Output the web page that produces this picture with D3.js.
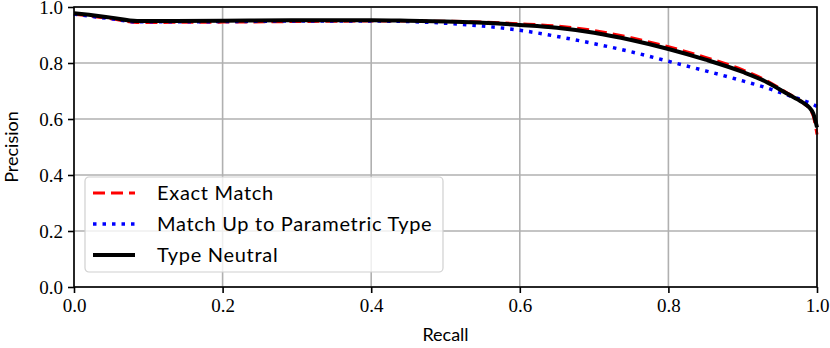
<!DOCTYPE html>
<html lang="en">
  <head>
    <meta charset="UTF-8" />
    <script src="https://d3js.org/d3.v7.min.js"></script>
    <style>
      body { margin: 0; background: #fff; }
      .tick text { font-family: "Liberation Serif", serif; font-size: 19px; fill: #000; }
      .lbl { font-family: "Lato", sans-serif; font-size: 18px; fill: #000; }
      .leg { font-family: "Lato", sans-serif; font-size: 20px; letter-spacing: 0.7px; fill: #000; }
    </style>
  </head>
  <body>
    <div id="chart"></div>
    <script>
      // recall grid shared by the three curves
      const recall = [0, 0.02, 0.05, 0.085, 0.1, 0.2, 0.3, 0.4, 0.45, 0.5, 0.55, 0.6, 0.65, 0.7, 0.75, 0.8, 0.85, 0.9, 0.93, 0.96, 0.98, 0.99, 0.995, 1.0];
      const exactMatch = [0.975, 0.968, 0.958, 0.945, 0.945, 0.946, 0.948, 0.950, 0.950, 0.949, 0.946, 0.940, 0.932, 0.916, 0.890, 0.858, 0.820, 0.775, 0.740, 0.693, 0.660, 0.635, 0.610, 0.545];
      const parametric = [0.975, 0.968, 0.958, 0.947, 0.947, 0.948, 0.950, 0.950, 0.948, 0.942, 0.932, 0.917, 0.895, 0.869, 0.840, 0.806, 0.772, 0.736, 0.713, 0.686, 0.668, 0.658, 0.652, 0.645];
      const typeNeutral = [0.978, 0.972, 0.962, 0.950, 0.950, 0.951, 0.953, 0.953, 0.951, 0.948, 0.944, 0.936, 0.926, 0.908, 0.882, 0.850, 0.812, 0.768, 0.735, 0.690, 0.660, 0.640, 0.620, 0.570];
      const seriesNames = ["Exact Match", "Match Up to Parametric Type", "Type Neutral"];
      const ticks = [0, 0.2, 0.4, 0.6, 0.8, 1.0];

      const W = 830, H = 348;
      const margin = { top: 7, right: 13, bottom: 61, left: 74 };
      const width = W - margin.left - margin.right,
        height = H - margin.top - margin.bottom;

      const svg = d3.select("#chart").append("svg")
        .attr("width", W).attr("height", H);
      const g = svg.append("g")
        .attr("transform", `translate(${margin.left}, ${margin.top})`);

      const x = d3.scaleLinear().domain([0, 1]).range([0, width]);
      const y = d3.scaleLinear().domain([0, 1]).range([height, 0]);

      // grid
      g.append("g").selectAll("line").data(ticks).join("line")
        .attr("x1", d => x(d)).attr("x2", d => x(d))
        .attr("y1", 0).attr("y2", height)
        .attr("stroke", "#b0b0b0").attr("stroke-width", 1.6);
      g.append("g").selectAll("line").data(ticks).join("line")
        .attr("y1", d => y(d)).attr("y2", d => y(d))
        .attr("x1", 0).attr("x2", width)
        .attr("stroke", "#b0b0b0").attr("stroke-width", 1.6);

      const line = d3.line().x(d => x(d[0])).y(d => y(d[1])).curve(d3.curveMonotoneX);
      const series = [
        { vals: exactMatch, color: "#ff0000", w: 3, dash: "12,6" },
        { vals: parametric, color: "#0000ff", w: 3.5, dash: "3.5,6" },
        { vals: typeNeutral, color: "#000000", w: 4, dash: null }
      ];
      series.forEach(s => {
        g.append("path")
          .datum(recall.map((r, i) => [r, s.vals[i]]))
          .attr("fill", "none")
          .attr("stroke", s.color)
          .attr("stroke-width", s.w)
          .attr("stroke-dasharray", s.dash)
          .attr("d", line);
      });

      // axes
      const fmt = d3.format(".1f");
      const xAxis = g.append("g")
        .attr("transform", `translate(0, ${height})`)
        .call(d3.axisBottom(x).tickValues(ticks).tickFormat(fmt).tickSize(6).tickPadding(6));
      const yAxis = g.append("g")
        .call(d3.axisLeft(y).tickValues(ticks).tickFormat(fmt).tickSize(6).tickPadding(5));
      [xAxis, yAxis].forEach(a => {
        a.select(".domain").remove();
        a.selectAll(".tick line").attr("stroke", "#000").attr("stroke-width", 1.6);
      });
      // frame
      g.append("rect").attr("width", width).attr("height", height)
        .attr("fill", "none").attr("stroke", "#000").attr("stroke-width", 1.6);

      // labels
      svg.append("text").attr("class", "lbl")
        .attr("x", margin.left + width / 2).attr("y", H - 7)
        .attr("text-anchor", "middle").text("Recall");
      svg.append("text").attr("class", "lbl")
        .attr("transform", `translate(18, ${margin.top + height / 2}) rotate(-90)`)
        .attr("text-anchor", "middle").text("Precision");

      // legend
      const leg = svg.append("g").attr("transform", "translate(85, 177)");
      leg.append("rect").attr("width", 358).attr("height", 95)
        .attr("rx", 4).attr("fill", "#fff").attr("fill-opacity", 0.8)
        .attr("stroke", "#d0d0d0").attr("stroke-width", 1.2);
      series.forEach((s, i) => {
        const yy = 16 + i * 31;
        leg.append("line")
          .attr("x1", 8).attr("x2", 50).attr("y1", yy).attr("y2", yy)
          .attr("stroke", s.color).attr("stroke-width", s.w)
          .attr("stroke-dasharray", s.dash);
        leg.append("text").attr("class", "leg")
          .attr("x", 72).attr("y", yy).attr("dy", "0.35em")
          .text(seriesNames[i]);
      });
    </script>
  </body>
</html>
